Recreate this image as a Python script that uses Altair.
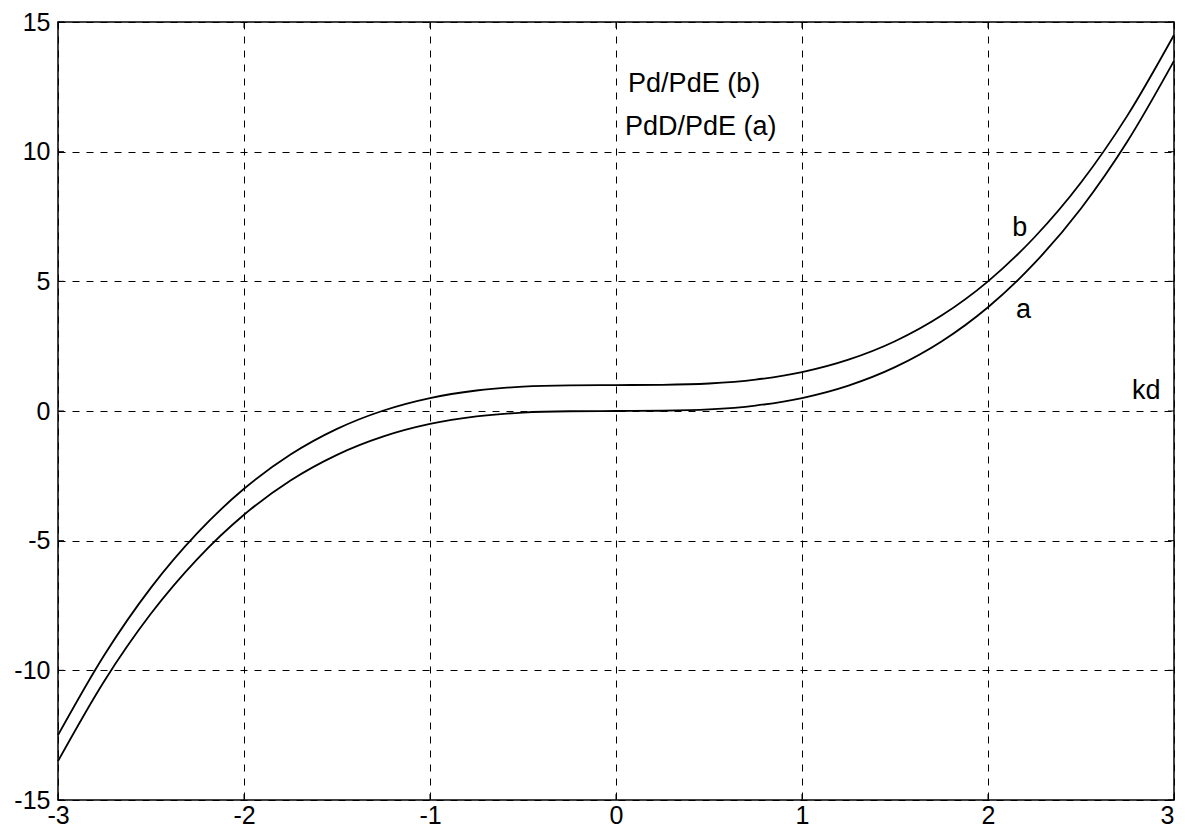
import altair as alt
import pandas as pd

# Values
x_vals = [-3.0, -2.75, -2.5, -2.25, -2.0, -1.75, -1.5, -1.25, -1.0, -0.75, -0.5, -0.25,
          0.0, 0.25, 0.5, 0.75, 1.0, 1.25, 1.5, 1.75, 2.0, 2.25, 2.5, 2.75, 3.0]
a_vals = [-13.5, -10.4, -7.81, -5.70, -4.0, -2.68, -1.69, -0.98, -0.5, -0.21, -0.06, -0.01,
          0.0, 0.01, 0.06, 0.21, 0.5, 0.98, 1.69, 2.68, 4.0, 5.70, 7.81, 10.4, 13.5]
b_vals = [-12.5, -9.4, -6.81, -4.70, -3.0, -1.68, -0.69, 0.02, 0.5, 0.79, 0.94, 0.99,
          1.0, 1.01, 1.06, 1.21, 1.5, 1.98, 2.69, 3.68, 5.0, 6.70, 8.81, 11.4, 14.5]

x_ticks = [-3, -2, -1, 0, 1, 2, 3]
y_ticks = [-15, -10, -5, 0, 5, 10, 15]

label_text = ["Pd/PdE (b)", "PdD/PdE (a)", "b", "a", "kd"]
label_x = [0.065, 0.048, 2.13, 2.15, 2.774]
label_y = [12.6, 10.96, 7.04, 3.88, 0.77]

W, H = 1116, 778
FONT = "Liberation Sans"

n = len(x_vals)
curves = pd.DataFrame({
    "x": x_vals + x_vals,
    "y": a_vals + b_vals,
    "series": ["a"] * n + ["b"] * n,
})
labels = pd.DataFrame({"x": label_x, "y": label_y, "text": label_text})
xt = pd.DataFrame({"t": x_ticks})
yt = pd.DataFrame({"t": y_ticks})

LBL = "datum.value < 0 ? '-' + abs(datum.value) : '' + datum.value"
xs = alt.Scale(domain=[-3, 3], nice=False, zero=False)
ys = alt.Scale(domain=[-15, 15], nice=False, zero=False)
x_axis = alt.Axis(values=x_ticks, title=None, labelFlush=False, labelOverlap=False,
                  labelExpr=LBL, labelPadding=3,
                  labelAlign=alt.ExprRef(expr="datum.value >= 3 ? 'right' : 'center'"))
y_axis = alt.Axis(values=y_ticks, title=None, labelFlush=False, labelOverlap=False,
                  labelExpr=LBL, labelPadding=8)

lines = alt.Chart(curves).mark_line(
    color="black", strokeWidth=1.8, interpolate="monotone"
).encode(
    x=alt.X("x:Q", scale=xs, axis=x_axis),
    y=alt.Y("y:Q", scale=ys, axis=y_axis),
    detail="series:N",
)

texts = alt.Chart(labels).mark_text(
    align="left", baseline="middle", font=FONT, fontSize=27, color="black"
).encode(
    x=alt.X("x:Q", scale=xs, axis=x_axis),
    y=alt.Y("y:Q", scale=ys, axis=y_axis),
    text="text:N",
)

TL = 6
bottom_ticks = alt.Chart(xt).mark_rule(color="black", strokeWidth=1).encode(
    x=alt.X("t:Q", scale=xs, axis=x_axis), y=alt.value(H), y2=alt.value(H - TL))
top_ticks = alt.Chart(xt).mark_rule(color="black", strokeWidth=1).encode(
    x=alt.X("t:Q", scale=xs, axis=x_axis), y=alt.value(0), y2=alt.value(TL))
left_ticks = alt.Chart(yt).mark_rule(color="black", strokeWidth=1).encode(
    y=alt.Y("t:Q", scale=ys, axis=y_axis), x=alt.value(0), x2=alt.value(TL))
right_ticks = alt.Chart(yt).mark_rule(color="black", strokeWidth=1).encode(
    y=alt.Y("t:Q", scale=ys, axis=y_axis), x=alt.value(W), x2=alt.value(W - TL))

chart = alt.layer(
    lines, texts, bottom_ticks, top_ticks, left_ticks, right_ticks
).properties(
    width=W,
    height=H,
    autosize=alt.AutoSizeParams(type="none"),
    padding={"left": 50, "top": 14, "right": 3, "bottom": 31},
).configure_view(
    stroke="black", strokeWidth=1.5
).configure_axis(
    domain=False,
    ticks=False,
    grid=True,
    gridColor="black",
    gridDash=[7, 7],
    gridWidth=1,
    gridOpacity=1,
    labelFont=FONT,
    labelFontSize=25,
    labelColor="black",
)

chart.save("out.html", embed_options={"renderer": "svg", "actions": False})
